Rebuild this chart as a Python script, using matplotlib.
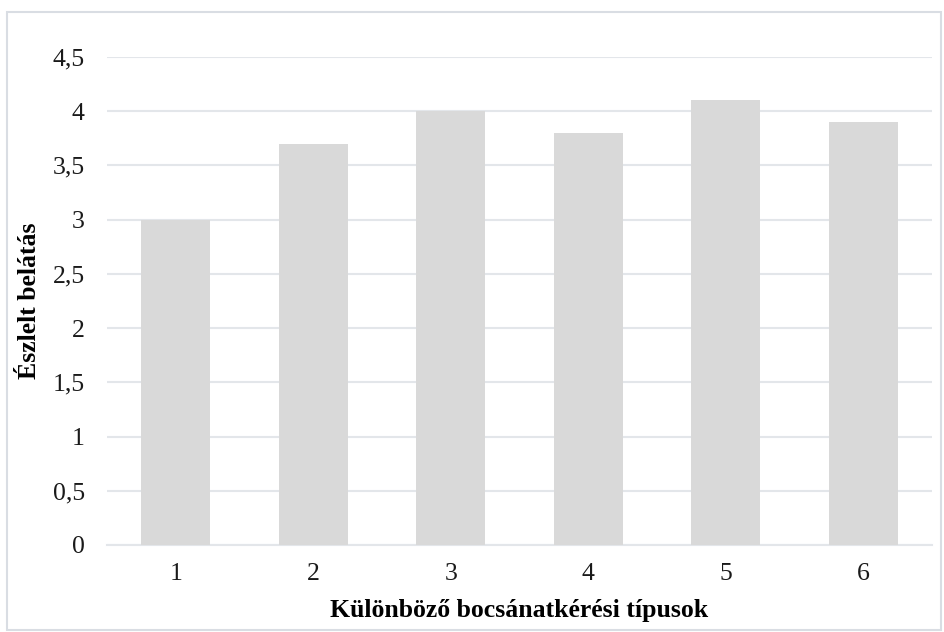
import matplotlib.pyplot as plt
from matplotlib.patches import Rectangle

kategoriak = ["1", "2", "3", "4", "5", "6"]
ertekek = [3.0, 3.7, 4.0, 3.8, 4.1, 3.9]
y_ticks = [0, 0.5, 1, 1.5, 2, 2.5, 3, 3.5, 4, 4.5]
y_labels = ["0", "0,5", "1", "1,5", "2", "2,5", "3", "3,5", "4", "4,5"]

plt.rcParams['font.family'] = ['Liberation Serif', 'DejaVu Serif']

fig = plt.figure(figsize=(9.45, 6.32), dpi=100)
ax = fig.add_axes([0.1132, 0.1377, 0.8730, 0.7721])

x = range(len(kategoriak))
ax.bar(x, ertekek, width=0.5, color='#D9D9D9', zorder=3)

ax.set_xlim(-0.5, len(kategoriak) - 0.5)
ax.set_ylim(0, 4.5)
ax.set_yticks(y_ticks)
ax.set_yticklabels(y_labels)
ax.set_xticks(list(x))
ax.set_xticklabels(kategoriak)
ax.grid(axis='y', color='#E3E6EA', linewidth=1.5, zorder=0)
ax.tick_params(length=0, labelsize=18.5, colors='#1a1a1a')
ax.tick_params(axis='y', pad=16)
ax.tick_params(axis='x', pad=13)
for s in ['top', 'right', 'left']:
    ax.spines[s].set_visible(False)
ax.spines['bottom'].set_color('#E3E6EA')
ax.spines['bottom'].set_linewidth(1.5)

ax.set_xlabel("Különböző bocsánatkérési típusok", fontsize=18.5, fontweight='bold', labelpad=10)
ax.set_ylabel("Észlelt belátás", fontsize=18.5, fontweight='bold', labelpad=8.5)

fig.patches.append(Rectangle((0.0075, 0.003), 0.988, 0.978, transform=fig.transFigure,
                             fill=False, edgecolor='#D9DDE3', linewidth=1.5))

fig.savefig("out.png", dpi=100)
